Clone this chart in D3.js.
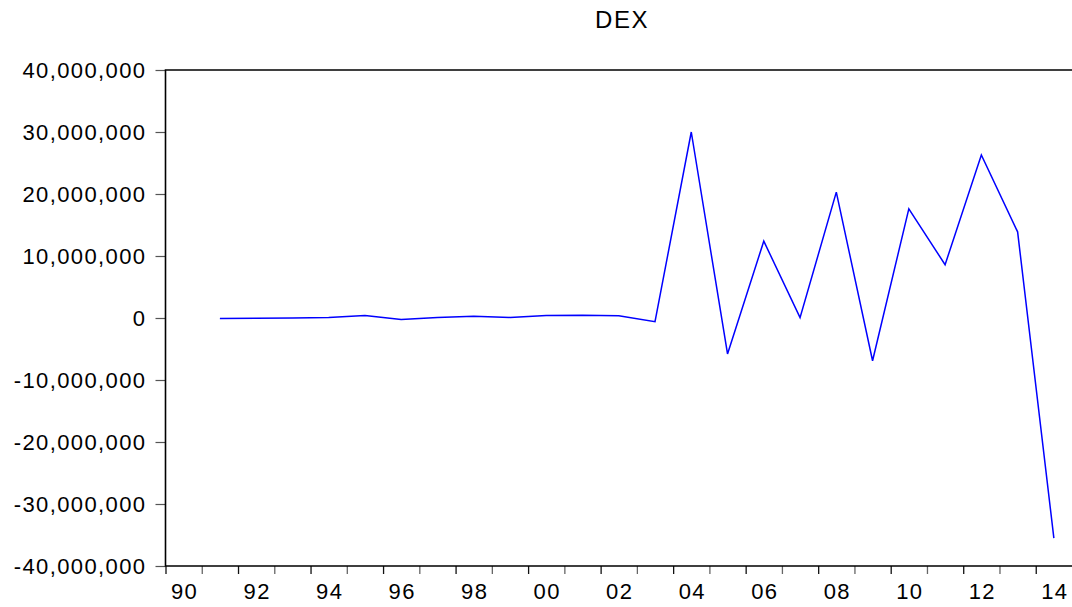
<!DOCTYPE html>
<html>
<head>
<meta charset="utf-8">
<script src="https://cdn.jsdelivr.net/npm/d3@7"></script>
<style>
  body { margin: 0; background: #fff; }
  text { font-family: "Liberation Sans", Arial, sans-serif; fill: #000; }
</style>
</head>
<body>
<svg id="chart" width="1072" height="607"></svg>
<script>
// DEX series, one value per year 1991..2014
const years = [1991, 1992, 1993, 1994, 1995, 1996, 1997, 1998, 1999, 2000, 2001, 2002,
  2003, 2004, 2005, 2006, 2007, 2008, 2009, 2010, 2011, 2012, 2013, 2014]
const dex = [-100000, -50000, 0, 100000, 400000, -250000, 100000, 300000, 100000, 400000, 450000, 350000,
  -600000, 30000000, -5800000, 12400000, 50000, 20300000, -6900000, 17600000, 8600000, 26300000, 13900000, -35500000]
const yTicks = [-40000000, -30000000, -20000000, -10000000, 0, 10000000, 20000000, 30000000, 40000000]
const xLabelYears = [1990, 1992, 1994, 1996, 1998, 2000, 2002, 2004, 2006, 2008, 2010, 2012, 2014]

const svg = d3.select('#chart')
const margin = { top: 70, right: 0, bottom: 41, left: 165.5 }
const width = 1072
const height = 607

const x = d3.scaleLinear()
  .domain([1990, 2015])
  .range([margin.left, width - margin.right])

const y = d3.scaleLinear()
  .domain([-40000000, 40000000])
  .range([height - margin.bottom, margin.top])

// Title
svg.append('text')
  .attr('x', 622)
  .attr('y', 28)
  .attr('text-anchor', 'middle')
  .style('font-size', '24px')
  .style('letter-spacing', '1.5px')
  .text('DEX')

// y axis
const yAxis = svg.append('g')
  .attr('transform', `translate(${margin.left},0)`)
  .call(d3.axisLeft(y).tickValues(yTicks).tickSize(10).tickPadding(9)
    .tickFormat(d => d3.format(',')(d).replace('−', '-')))
yAxis.select('.domain').remove()
yAxis.selectAll('line').attr('stroke', '#555').attr('stroke-width', 1.2)
yAxis.selectAll('text')
  .style('font-size', '22px')
  .style('letter-spacing', '1.4px')
  .attr('dy', '0.36em')

// x axis ticks at every year boundary
const xAxis = svg.append('g')
  .attr('transform', `translate(0,${height - margin.bottom})`)
  .call(d3.axisBottom(x).tickValues(d3.range(1990, 2015)).tickSize(8).tickFormat(''))
xAxis.select('.domain').remove()
xAxis.selectAll('line')
  .attr('stroke', (d, i) => i % 2 === 0 ? '#111' : '#666')
  .attr('stroke-width', 1.3)

// x labels centred on the year
svg.append('g')
  .selectAll('text')
  .data(xLabelYears)
  .enter()
  .append('text')
  .attr('x', d => x(d + 0.5) + 1)
  .attr('y', 599)
  .attr('text-anchor', 'middle')
  .style('font-size', '22px')
  .style('letter-spacing', '1.4px')
  .text(d => String(d % 100).padStart(2, '0'))

// frame: left, top, bottom
const frame = svg.append('g').attr('stroke', '#000').attr('stroke-width', 1.6).attr('fill', 'none')
frame.append('path')
  .attr('d', `M${width},${y(40000000)}H${margin.left}V${y(-40000000)}H${width}`)

// series line, points at mid-year
const line = d3.line()
  .x((d, i) => x(years[i] + 0.5))
  .y(d => y(d))

svg.append('path')
  .datum(dex)
  .attr('fill', 'none')
  .attr('stroke', '#0000ff')
  .attr('stroke-width', 1.5)
  .attr('d', line)
</script>
</body>
</html>
